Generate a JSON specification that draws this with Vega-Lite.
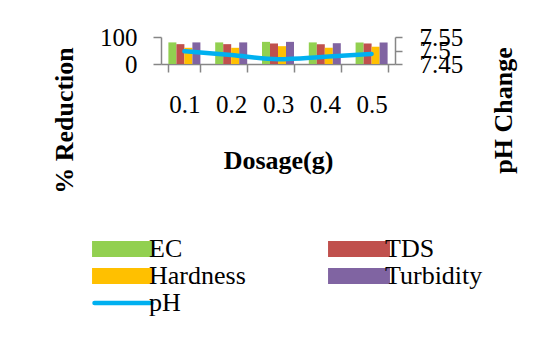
{
  "$schema": "https://vega.github.io/schema/vega-lite/v6.json",
  "width": 234,
  "height": 27,
  "autosize": {"type": "none"},
  "padding": {"left": 161, "top": 37, "right": 147, "bottom": 283},
  "config": {
    "view": {"stroke": null},
    "font": "Liberation Serif",
    "axis": {
      "labelFont": "Liberation Serif",
      "titleFont": "Liberation Serif",
      "labelColor": "black",
      "titleColor": "black",
      "domainColor": "#868686",
      "tickColor": "#868686",
      "domainWidth": 1.5,
      "tickWidth": 1.5,
      "grid": false,
      "labelFontSize": 25,
      "titleFontSize": 26,
      "titleFontWeight": "bold",
      "labelOverlap": false,
      "labelBound": false,
      "labelFlush": false
    }
  },
  "datasets": {
    "bars": [
      {"dosage": "0.1", "series": "EC", "value": 80},
      {"dosage": "0.1", "series": "TDS", "value": 73.5},
      {"dosage": "0.1", "series": "Hardness", "value": 60},
      {"dosage": "0.1", "series": "Turbidity", "value": 80},
      {"dosage": "0.2", "series": "EC", "value": 80},
      {"dosage": "0.2", "series": "TDS", "value": 73.5},
      {"dosage": "0.2", "series": "Hardness", "value": 60},
      {"dosage": "0.2", "series": "Turbidity", "value": 80},
      {"dosage": "0.3", "series": "EC", "value": 82},
      {"dosage": "0.3", "series": "TDS", "value": 76},
      {"dosage": "0.3", "series": "Hardness", "value": 66},
      {"dosage": "0.3", "series": "Turbidity", "value": 82},
      {"dosage": "0.4", "series": "EC", "value": 80},
      {"dosage": "0.4", "series": "TDS", "value": 73.5},
      {"dosage": "0.4", "series": "Hardness", "value": 60},
      {"dosage": "0.4", "series": "Turbidity", "value": 77},
      {"dosage": "0.5", "series": "EC", "value": 80},
      {"dosage": "0.5", "series": "TDS", "value": 76},
      {"dosage": "0.5", "series": "Hardness", "value": 64},
      {"dosage": "0.5", "series": "Turbidity", "value": 80}
    ],
    "ph": [
      {"dosage": "0.1", "pH": 7.497},
      {"dosage": "0.2", "pH": 7.483},
      {"dosage": "0.3", "pH": 7.468},
      {"dosage": "0.4", "pH": 7.477},
      {"dosage": "0.5", "pH": 7.487}
    ]
  },
  "encoding": {
    "x": {
      "field": "dosage",
      "type": "nominal",
      "scale": {"paddingInner": 0.316, "paddingOuter": 0.158},
      "axis": {
        "title": "Dosage(g)",
        "labelAngle": 0,
        "tickBand": "extent",
        "tickSize": 8,
        "labelPadding": 20,
        "titleX": 117,
        "titleY": 104,
        "titleAlign": "center",
        "titleBaseline": "alphabetic"
      }
    }
  },
  "layer": [
    {
      "data": {"name": "bars"},
      "mark": {"type": "bar"},
      "encoding": {
        "xOffset": {
          "field": "series",
          "type": "nominal",
          "sort": ["EC", "TDS", "Hardness", "Turbidity"],
          "scale": {"paddingInner": 0, "paddingOuter": 0}
        },
        "y": {
          "field": "value",
          "type": "quantitative",
          "scale": {"domain": [0, 100], "nice": false},
          "axis": {
            "title": "% Reduction",
            "values": [0, 100],
            "tickSize": 8,
            "labelPadding": 16,
            "titleAngle": 270,
            "titleX": -89,
            "titleY": 83,
            "titleAlign": "center",
            "titleBaseline": "alphabetic"
          }
        },
        "color": {
          "field": "series",
          "type": "nominal",
          "scale": {
            "domain": ["EC", "TDS", "Hardness", "Turbidity", "pH"],
            "range": ["#92D050", "#C0504D", "#FFC000", "#8064A2", "#00B0F0"]
          },
          "legend": {
            "title": null,
            "orient": "none",
            "direction": "horizontal",
            "legendX": -51,
            "legendY": 199,
            "columns": 2,
            "columnPadding": 82,
            "rowPadding": 1,
            "padding": 0,
            "labelFont": "Liberation Serif",
            "labelFontSize": 26,
            "labelColor": "black",
            "labelOffset": 13,
            "labelLimit": 0,
            "symbolSize": 3834,
            "encode": {
              "symbols": {
                "update": {
                  "shape": {"signal": "datum.value === 'pH' ? 'M-0.92,0H0.92' : 'M-1,-0.255H1V0.255H-1Z'"},
                  "fill": {"signal": "datum.value === 'pH' ? 'transparent' : scale('color', datum.value)"},
                  "stroke": {"signal": "datum.value === 'pH' ? '#00B0F0' : 'transparent'"},
                  "strokeWidth": {"signal": "datum.value === 'pH' ? 4.5 : 0"},
                  "strokeCap": {"value": "round"},
                  "opacity": {"value": 1}
                }
              }
            }
          }
        }
      }
    },
    {
      "data": {"name": "ph"},
      "mark": {"type": "line", "interpolate": "monotone", "strokeWidth": 4.5, "strokeCap": "round"},
      "encoding": {
        "y": {
          "field": "pH",
          "type": "quantitative",
          "scale": {"domain": [7.45, 7.55], "nice": false, "zero": false},
          "axis": {
            "orient": "right",
            "title": "pH Change",
            "values": [7.45, 7.5, 7.55],
            "format": ".2~f",
            "tickSize": 7,
            "labelPadding": 17,
            "titleAngle": 270,
            "titleX": 116,
            "titleY": 73,
            "titleAlign": "center",
            "titleBaseline": "alphabetic"
          }
        },
        "color": {"datum": "pH"}
      }
    }
  ],
  "resolve": {"scale": {"y": "independent"}, "axis": {"y": "independent"}}
}
